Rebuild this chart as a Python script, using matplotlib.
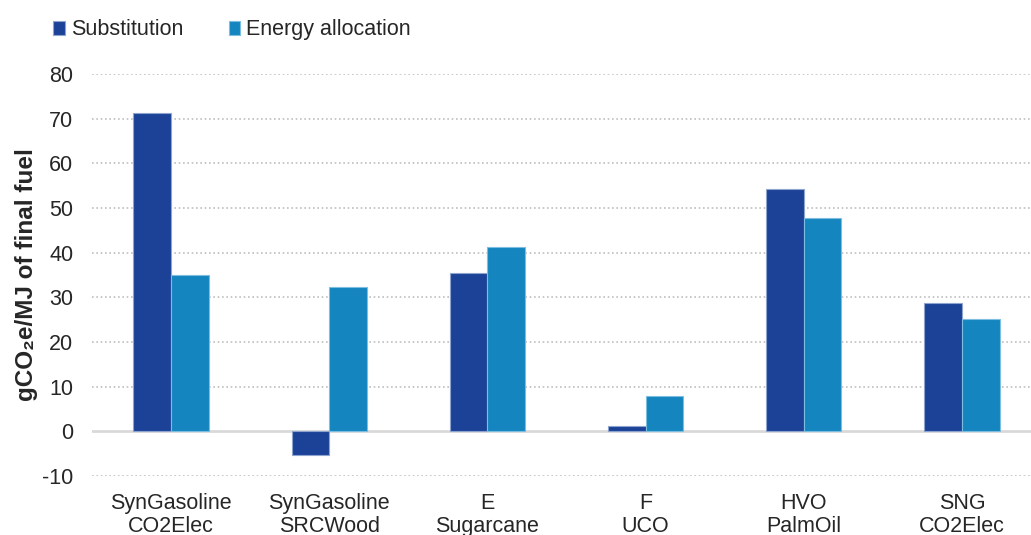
import matplotlib
matplotlib.use('Agg')
import matplotlib.pyplot as plt
import numpy as np

plt.rcParams['font.family'] = ['Liberation Sans', 'DejaVu Sans']

# Datos
categories = ['SynGasoline\nCO2Elec', 'SynGasoline\nSRCWood', 'E\nSugarcane',
              'F\nUCO', 'HVO\nPalmOil', 'SNG\nCO2Elec']
substitution = [71.2, -5.2, 35.5, 1.2, 54.3, 28.8]
energy_alloc = [35.0, 32.2, 41.3, 8.0, 47.8, 25.2]
yticks = [-10, 0, 10, 20, 30, 40, 50, 60, 70, 80]

c_sub = '#1B4297'
c_ea = '#1485BF'
txt = '#262626'

fig = plt.figure(figsize=(10.31, 5.35), dpi=100)
ax = fig.add_axes([0.0892, 0.1103, 0.9205, 0.7514])

x = np.arange(len(categories))
w = 0.238
ax.bar(x - w / 2, substitution, w, color=c_sub, edgecolor='#8FA3CF', linewidth=0.8,
       label='Substitution', zorder=3)
ax.bar(x + w / 2, energy_alloc, w, color=c_ea, edgecolor='#7DBEE0', linewidth=0.8,
       label='Energy allocation', zorder=3)

ax.set_xlim(-0.5, len(categories) - 0.5)
ax.set_ylim(-10, 80)
ax.set_yticks(yticks)
ax.set_yticklabels([str(v) for v in yticks])
ax.set_xticks(x)
ax.set_xticklabels(categories, linespacing=1.15)

# rejilla punteada y línea de cero
for v in yticks:
    if v == 0:
        ax.axhline(0, color='#D9D9D9', linewidth=2, zorder=2)
    else:
        ax.axhline(v, color='#BFBFBF', linewidth=1.2, linestyle=(0, (1, 1.6)), zorder=1)

for s in ax.spines.values():
    s.set_visible(False)
ax.tick_params(axis='both', length=0, labelsize=15.5, colors=txt)
ax.tick_params(axis='y', pad=13.5)
ax.tick_params(axis='x', pad=12)

ax.set_ylabel('gCO\u2082e/MJ of final fuel', fontsize=17.5, fontweight='bold',
              color=txt, labelpad=3)

fig.legend(loc='upper left', bbox_to_anchor=(0.033, 1.0), ncol=2, frameon=False,
           fontsize=15.5, handlelength=0.52, handleheight=0.6, handletextpad=0.3,
           columnspacing=2.1, labelcolor=txt)

plt.savefig('out.png', dpi=100)
